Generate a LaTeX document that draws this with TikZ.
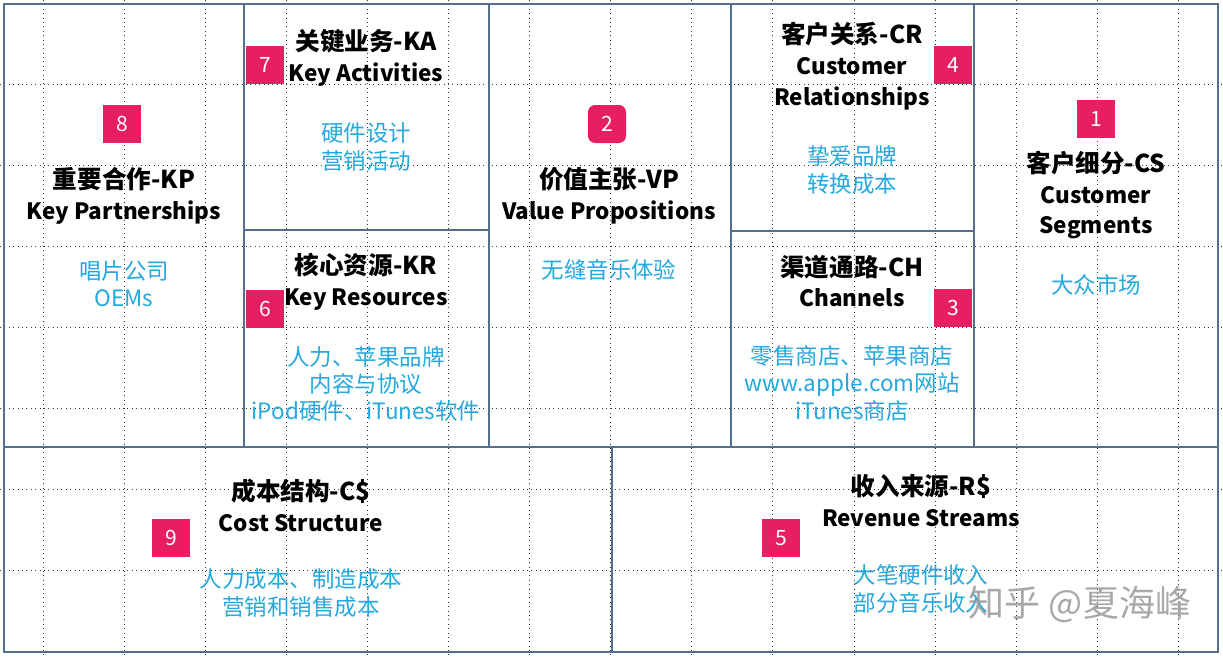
\documentclass[tikz,border=0pt]{standalone}
\usepackage{fontspec}
\setmainfont{Noto Sans CJK SC}
\definecolor{frameblue}{RGB}{84,110,140}
\definecolor{badgered}{RGB}{232,30,99}
\definecolor{itemblue}{RGB}{36,168,222}
\newcommand{\headcn}[1]{{\fontsize{14}{17.6}\selectfont #1}}
\begin{document}
\begin{tikzpicture}[x=0.02cm,y=-0.02cm,
  gridline/.style={black!80,line width=0.5pt,dotted},
  frameline/.style={frameblue,line width=0.6pt},
  badge/.style={rectangle,fill=badgered,text=white,minimum width=0.76cm,minimum height=0.76cm,inner sep=0pt,font=\fontsize{12}{12}\selectfont},
  head/.style={align=center,font=\fontsize{12.8}{17.6}\selectfont\bfseries},
  item/.style={align=center,text=itemblue,font=\fontsize{12.8}{15.6}\selectfont}]
\useasboundingbox (0,0) rectangle (1223,656);
\fill[white] (0,0) rectangle (1223,656);
% dotted grid
\draw[gridline] (43,0) -- (43,656);
\draw[gridline] (124.1,0) -- (124.1,656);
\draw[gridline] (205.2,0) -- (205.2,656);
\draw[gridline] (286.3,0) -- (286.3,656);
\draw[gridline] (367.4,0) -- (367.4,656);
\draw[gridline] (448.5,0) -- (448.5,656);
\draw[gridline] (529.6,0) -- (529.6,656);
\draw[gridline] (610.7,0) -- (610.7,656);
\draw[gridline] (691.8,0) -- (691.8,656);
\draw[gridline] (772.9,0) -- (772.9,656);
\draw[gridline] (854,0) -- (854,656);
\draw[gridline] (935.1,0) -- (935.1,656);
\draw[gridline] (1016.2,0) -- (1016.2,656);
\draw[gridline] (1097.3,0) -- (1097.3,656);
\draw[gridline] (1178.4,0) -- (1178.4,656);
\draw[gridline] (0,84) -- (1223,84);
\draw[gridline] (0,165.1) -- (1223,165.1);
\draw[gridline] (0,246.2) -- (1223,246.2);
\draw[gridline] (0,327.3) -- (1223,327.3);
\draw[gridline] (0,408.4) -- (1223,408.4);
\draw[gridline] (0,489.5) -- (1223,489.5);
\draw[gridline] (0,570.6) -- (1223,570.6);

% canvas frame
\draw[frameline] (4,4) rectangle (1218,652);
\draw[frameline] (244,4) -- (244,447);
\draw[frameline] (489,4) -- (489,447);
\draw[frameline] (731,4) -- (731,447);
\draw[frameline] (974,4) -- (974,447);
\draw[frameline] (244,230) -- (489,230);
\draw[frameline] (731,231) -- (974,231);
\draw[frameline] (4,447) -- (1218,447);
\draw[frameline] (612,447) -- (612,652);

% numbered badges
\node[badge] (n1) at (1096,119) {1};
\node[badge,rounded corners=4pt] (n2) at (607,124) {2};
\node[badge] (n3) at (953,308) {3};
\node[badge] (n4) at (953,65) {4};
\node[badge] (n5) at (781,538) {5};
\node[badge] (n6) at (265,309) {6};
\node[badge] (n7) at (265,65) {7};
\node[badge] (n8) at (122,124) {8};
\node[badge] (n9) at (171,538) {9};

% block titles
\node[head] (kp) at (124,196) {\headcn{重要合作-KP}\\Key Partnerships};
\node[head] (ka) at (366,58) {\headcn{关键业务-KA}\\Key Activities};
\node[head] (vp) at (609,196) {\headcn{价值主张-VP}\\Value Propositions};
\node[head] (cr) at (852,66) {\headcn{客户关系-CR}\\Customer\\Relationships};
\node[head] (cs) at (1096,195) {\headcn{客户细分-CS}\\Customer\\Segments};
\node[head] (kr) at (366,282) {\headcn{核心资源-KR}\\Key Resources};
\node[head] (ch) at (852,281) {\headcn{渠道通路-CH}\\Channels};
\node[head] (cost) at (301,505) {\headcn{成本结构-C\$}\\Cost Structure};
\node[head] (rev) at (921,501) {\headcn{收入来源-R\$}\\Revenue Streams};

% block contents
\node[item] (kpitem) at (124,284) {唱片公司\\OEMs};
\node[item] (kaitem) at (366,147) {硬件设计\\营销活动};
\node[item] (vpitem) at (609,270) {无缝音乐体验};
\node[item] (critem) at (852,170) {挚爱品牌\\转换成本};
\node[item] (csitem) at (1096,285) {大众市场};
\node[item] (kritem) at (366,384) {人力、苹果品牌\\内容与协议\\iPod硬件、iTunes软件};
\node[item] (chitem) at (852,383) {零售商店、苹果商店\\www.apple.com网站\\iTunes商店};
\node[item] (costitem) at (301,593) {人力成本、制造成本\\营销和销售成本};
\node[item] (revitem) at (921,589) {大笔硬件收入\\部分音乐收入};

\node[text=black!40,opacity=0.85,font=\fontsize{20.5}{20.5}\selectfont] (mark) at (1080,604) {知乎 @夏海峰};
\end{tikzpicture}
\end{document}
